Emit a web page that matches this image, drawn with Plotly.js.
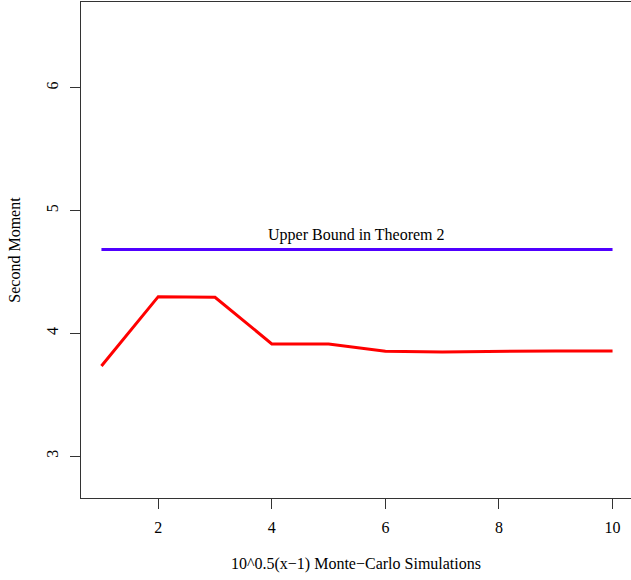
<!DOCTYPE html>
<html><head><meta charset="utf-8">
<script src="https://cdn.plot.ly/plotly-3.0.1.min.js"></script>
<style>html,body{margin:0;padding:0;background:#fff}#plot{width:631px;height:580px}</style>
</head><body><div id="plot"></div>
<script>
const xs = [1,2,3,4,5,6,7,8,9,10];
const secondMoment = [3.735,4.30,4.295,3.915,3.915,3.855,3.85,3.855,3.858,3.858];
const upperBound = 4.685;
const boundLabel = "Upper Bound in Theorem 2";
const xTicks = [2,4,6,8,10];
const yTicks = [3,4,5,6];

const font = {family: "Liberation Serif, Times New Roman, serif", size: 16, color: "#000"};
const traces = [
  {x: xs, y: xs.map(()=>upperBound), mode: "lines", line: {color: "#5000ff", width: 3}, hoverinfo: "skip"},
  {x: xs, y: secondMoment, mode: "lines", line: {color: "#ff0000", width: 3}, hoverinfo: "skip"}
];
const layout = {
  width: 631, height: 580,
  margin: {l: 81, r: 0, t: 2, b: 82},
  paper_bgcolor: "#fff", plot_bgcolor: "#fff",
  showlegend: false,
  font: font,
  xaxis: {range: [0.64, 10.325], tickvals: xTicks, ticks: "outside", ticklen: 10, tickcolor: "#333",
          showgrid: false, zeroline: false, showline: true, mirror: true, linecolor: "#333", linewidth: 1,
          ticklabelstandoff: 5,
          title: {text: "10^0.5(x\u22121) Monte\u2212Carlo Simulations", font: font, standoff: 22}},
  yaxis: {range: [2.66, 6.70], tickvals: yTicks, ticks: "outside", ticklen: 10, tickcolor: "#333",
          tickangle: -90, showgrid: false, zeroline: false, showline: true, linecolor: "#333", linewidth: 1,
          ticklabelstandoff: 6,
          title: {text: "Second Moment", font: font, standoff: 18}},
  annotations: [{x: 5.5, y: 4.80, xref: "x", yref: "y", text: boundLabel, showarrow: false, font: font}]
};
Plotly.newPlot("plot", traces, layout, {staticPlot: true});
</script></body></html>
